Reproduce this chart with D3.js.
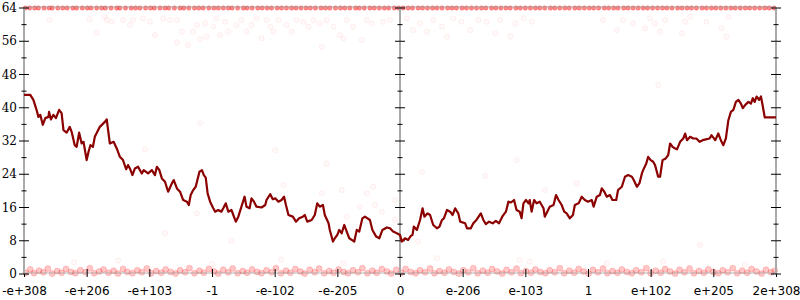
<!DOCTYPE html>
<html>
<head>
<meta charset="utf-8">
<script src="https://cdn.jsdelivr.net/npm/d3@7/dist/d3.min.js"></script>
<style>
  body { margin: 0; background: #fff; }
  svg { display: block; }
</style>
</head>
<body>
<svg id="chart" width="800" height="300"></svg>
<script>
// x positions are in "ordered float" units: -6 .. 6, one unit per labelled tick
var xLabels = ["-e+308", "-e+206", "-e+103", "-1", "-e-102", "-e-205", "0",
               "e-206", "e-103", "1", "e+102", "e+205", "2e+308"]
var yTicks = [0, 4, 8, 12, 16, 20, 24, 28, 32, 36, 40, 44, 48, 52, 56, 60, 64]

// the running line
var walkX = [-6, -5.9, -5.85, -5.8, -5.77, -5.74, -5.7, -5.66, -5.61, -5.6, -5.57, -5.53, -5.49, -5.44, -5.4,
  -5.37, -5.32, -5.27, -5.24, -5.19, -5.16, -5.12, -5.08, -5.05, -5, -4.97, -4.94, -4.9, -4.87, -4.79,
  -4.71, -4.68, -4.63, -4.57, -4.52, -4.47, -4.42, -4.37, -4.34, -4.31, -4.27, -4.23, -4.18, -4.12, -4.09,
  -4.02, -3.96, -3.91, -3.88, -3.84, -3.8, -3.75, -3.7, -3.64, -3.61, -3.56, -3.51, -3.46, -3.4, -3.37,
  -3.34, -3.3, -3.26, -3.2, -3.16, -3.13, -3.1, -3.07, -3.03, -2.98, -2.95, -2.9, -2.85, -2.82, -2.78,
  -2.74, -2.69, -2.62, -2.58, -2.53, -2.48, -2.45, -2.4, -2.37, -2.33, -2.29, -2.21, -2.15, -2.13, -2.07,
  -2.03, -1.99, -1.94, -1.89, -1.85, -1.82, -1.78, -1.71, -1.66, -1.61, -1.55, -1.52, -1.48, -1.41, -1.36,
  -1.32, -1.28, -1.23, -1.2, -1.14, -1.12, -1.07, -1.04, -1, -0.97, -0.93, -0.89, -0.85, -0.81, -0.77,
  -0.73, -0.69, -0.65, -0.6, -0.56, -0.48, -0.44, -0.38, -0.33, -0.28, -0.21, -0.16, -0.11, -0.05, 0,
  0.03, 0.08, 0.13, 0.17, 0.2, 0.22, 0.27, 0.32, 0.36, 0.39, 0.44, 0.48, 0.53, 0.59, 0.63,
  0.67, 0.7, 0.75, 0.8, 0.84, 0.88, 0.93, 0.96, 1.04, 1.07, 1.13, 1.17, 1.22, 1.29, 1.33,
  1.37, 1.42, 1.48, 1.53, 1.58, 1.64, 1.69, 1.73, 1.77, 1.82, 1.86, 1.91, 1.94, 1.97, 2.01,
  2.05, 2.07, 2.1, 2.14, 2.18, 2.23, 2.29, 2.31, 2.35, 2.39, 2.45, 2.49, 2.53, 2.58, 2.62,
  2.66, 2.71, 2.76, 2.79, 2.85, 2.9, 2.95, 3, 3.06, 3.09, 3.14, 3.19, 3.22, 3.26, 3.3,
  3.35, 3.39, 3.45, 3.48, 3.54, 3.59, 3.64, 3.7, 3.73, 3.78, 3.82, 3.86, 3.88, 3.93, 3.96,
  4, 4.04, 4.07, 4.12, 4.15, 4.19, 4.24, 4.28, 4.31, 4.35, 4.39, 4.42, 4.47, 4.52, 4.55,
  4.58, 4.63, 4.68, 4.73, 4.78, 4.83, 4.88, 4.94, 4.97, 5.03, 5.08, 5.12, 5.16, 5.2, 5.24,
  5.28, 5.32, 5.36, 5.4, 5.44, 5.47, 5.51, 5.56, 5.6, 5.63, 5.66, 5.69, 5.73, 5.76, 5.79,
  5.82, 6]
var walkY = [43.1, 43.1, 41.9, 39.5, 37.8, 38.3, 35.9, 37.5, 37.8, 39, 37.2, 38.3, 37.5, 39.5, 38.7,
  34.6, 34, 35.4, 34.2, 31, 30.6, 34, 31.4, 31.8, 27.4, 29.4, 31, 30.6, 33, 35.4,
  36.6, 37.2, 31.4, 31.8, 30.2, 28.2, 27.4, 25.2, 26.2, 25.4, 23.8, 25.4, 25.8, 24.2, 25,
  24.2, 25, 23.8, 25.8, 25, 23, 22.2, 19.8, 21.8, 22.6, 20.6, 19.8, 17.8, 17.4, 16.6,
  19, 20.2, 21, 24.6, 25, 23.8, 23.2, 19.4, 17.4, 15.8, 15, 15.4, 15, 15.8, 17,
  15, 15.4, 12.6, 13.8, 16.2, 18.6, 16.2, 15.8, 18.2, 17.4, 16.2, 16, 16.6, 17.8, 19.2,
  18, 18.2, 17.4, 17.8, 18.6, 16.6, 14.2, 13.8, 12.6, 13.4, 13.8, 14.2, 12.6, 13, 14.2,
  17, 16.2, 16.6, 14.2, 12.2, 10.6, 7.8, 8.6, 9.4, 10.6, 9.8, 11.8, 10.2, 8.6, 8.2,
  7.8, 10.6, 10.2, 13.4, 13.8, 13, 10.6, 9, 8.6, 10.6, 11.2, 11, 10.2, 9.8, 9.4,
  7.8, 8.6, 8.2, 9.1, 9.4, 11.4, 10.6, 13, 15.8, 13.8, 14.6, 14.2, 11.8, 11, 11.4,
  13, 13.4, 15.4, 15, 14.2, 15.8, 14.6, 12.6, 12.2, 11, 11, 12.2, 13, 14.6, 13,
  12, 12.6, 12.2, 12.8, 12.2, 14, 15, 17.4, 17.2, 17.8, 15.4, 15, 13.4, 17, 17.8,
  17, 17.8, 15, 17.8, 17, 17.4, 15.8, 13.8, 15, 16.2, 16.6, 19, 17.8, 16.6, 15,
  14.6, 13.4, 14.2, 16.6, 17, 18.6, 17.8, 17.4, 17.8, 16.2, 18.6, 19, 20.6, 19.8, 18.6,
  19, 17.8, 17.8, 20.2, 21, 23.4, 23.8, 23.4, 22.6, 21, 21.8, 24.2, 25, 26.6, 28.2,
  27.4, 27, 26.2, 23.4, 23.4, 27.4, 27.8, 28.6, 31.4, 30.6, 30.2, 30, 31.8, 32.6, 33.8,
  32.2, 33, 32.6, 32.6, 31.8, 32.2, 32.4, 32.6, 33.4, 32.2, 33.8, 32.2, 31, 32.6, 37,
  39, 39.5, 41.4, 41.9, 41, 39.9, 40.7, 41.4, 41, 42.3, 41.4, 42.7, 41.9, 42.7, 40.3,
  37.7, 37.7]

// faint samples piled up on the 64 ceiling
var ceilingX = [-5.98, -5.91, -5.83, -5.77, -5.68, -5.6, -5.55, -5.46, -5.38, -5.31, -5.22, -5.16, -5.07,
  -4.99, -4.93, -4.84, -4.76, -4.7, -4.61, -4.52, -4.47, -4.38, -4.29, -4.22, -4.15, -4.06, -3.98, -3.92,
  -3.83, -3.75, -3.69, -3.6, -3.51, -3.45, -3.37, -3.28, -3.21, -3.14, -3.05, -2.97, -2.9, -2.82, -2.74,
  -2.68, -2.59, -2.5, -2.44, -2.36, -2.27, -2.2, -2.12, -2.05, -1.96, -1.89, -1.81, -1.73, -1.66, -1.58,
  -1.5, -1.43, -1.35, -1.26, -1.19, -1.12, -1.03, -0.95, -0.88, -0.8, -0.71, -0.65, -0.57, -0.48, -0.41,
  -0.33, -0.25, -0.18, -0.09, -0.02, 0.05, 0.13, 0.2, 0.29, 0.36, 0.44, 0.52, 0.59, 0.67, 0.76, 0.83,
  0.9, 0.99, 1.06, 1.14, 1.22, 1.3, 1.37, 1.46, 1.53, 1.61, 1.69, 1.76, 1.85, 1.92, 2, 2.08, 2.16,
  2.23, 2.31, 2.4, 2.47, 2.55, 2.63, 2.7, 2.79, 2.86, 2.94, 3.02, 3.09, 3.17, 3.26, 3.33, 3.41, 3.48,
  3.57, 3.64, 3.72, 3.8, 3.88, 3.95, 4.03, 4.11, 4.19, 4.26, 4.34, 4.43, 4.5, 4.58, 4.65, 4.73, 4.82,
  4.89, 4.97, 5.04, 5.12, 5.2, 5.28, 5.35, 5.43, 5.51, 5.58, 5.66, 5.74, 5.82, 5.89, 5.97]

// faint samples near the floor
var floorPts = [[-5.97, 0.3], [-5.9, 1.1], [-5.84, 0.2], [-5.76, 0.8], [-5.69, 0.4], [-5.62, 1.3], [-5.55, 0.1],
  [-5.47, 0.7], [-5.4, 0.3], [-5.33, 1.2], [-5.25, 0.5], [-5.18, 0.2], [-5.1, 0.9], [-5.02, 0.4], [-4.95, 1.4],
  [-4.88, 0.2], [-4.8, 0.6], [-4.73, 1.1], [-4.65, 0.3], [-4.57, 0.8], [-4.5, 0.1], [-4.42, 1.2], [-4.35, 0.5],
  [-4.27, 0.2], [-4.19, 0.9], [-4.12, 0.4], [-4.04, 1.3], [-3.97, 0.2], [-3.89, 0.7], [-3.81, 0.3], [-3.74, 1.1],
  [-3.66, 0.5], [-3.58, 0.1], [-3.51, 0.9], [-3.43, 0.4], [-3.36, 1.4], [-3.28, 0.2], [-3.2, 0.8], [-3.13, 0.3],
  [-3.05, 1.2], [-2.97, 0.6], [-2.9, 0.1], [-2.82, 1], [-2.74, 0.4], [-2.67, 1.3], [-2.59, 0.2], [-2.51, 0.7],
  [-2.44, 0.3], [-2.36, 1.1], [-2.28, 0.5], [-2.21, 0.2], [-2.13, 0.9], [-2.05, 0.4], [-1.98, 1.4], [-1.9, 0.2],
  [-1.82, 0.8], [-1.75, 0.3], [-1.67, 1.2], [-1.59, 0.6], [-1.52, 0.1], [-1.44, 1], [-1.36, 0.4], [-1.29, 1.3],
  [-1.21, 0.2], [-1.13, 0.7], [-1.06, 0.3], [-0.98, 1.1], [-0.9, 0.5], [-0.83, 0.2], [-0.75, 0.9], [-0.67, 0.4],
  [-0.6, 1.4], [-0.52, 0.2], [-0.44, 0.8], [-0.37, 0.3], [-0.29, 1.2], [-0.21, 0.6], [-0.14, 0.1], [-0.06, 1],
  [0.02, 0.3], [0.09, 1.2], [0.17, 0.5], [0.25, 0.2], [0.32, 0.9], [0.4, 0.4], [0.48, 1.3], [0.55, 0.2],
  [0.63, 0.7], [0.71, 0.3], [0.78, 1.1], [0.86, 0.5], [0.94, 0.1], [1.01, 0.9], [1.09, 0.4], [1.17, 1.4],
  [1.24, 0.2], [1.32, 0.8], [1.4, 0.3], [1.47, 1.2], [1.55, 0.6], [1.63, 0.1], [1.7, 1], [1.78, 0.4],
  [1.86, 1.3], [1.93, 0.2], [2.01, 0.7], [2.09, 0.3], [2.16, 1.1], [2.24, 0.5], [2.32, 0.2], [2.39, 0.9],
  [2.47, 0.4], [2.55, 1.4], [2.62, 0.2], [2.7, 0.8], [2.78, 0.3], [2.85, 1.2], [2.93, 0.6], [3.01, 0.1],
  [3.08, 1], [3.16, 0.4], [3.24, 1.3], [3.31, 0.2], [3.39, 0.7], [3.47, 0.3], [3.54, 1.1], [3.62, 0.5],
  [3.7, 0.2], [3.77, 0.9], [3.85, 0.4], [3.93, 1.4], [4, 0.2], [4.08, 0.8], [4.16, 0.3], [4.23, 1.2],
  [4.31, 0.6], [4.39, 0.1], [4.46, 1], [4.54, 0.4], [4.62, 1.3], [4.69, 0.2], [4.77, 0.7], [4.85, 0.3],
  [4.92, 1.1], [5, 0.5], [5.08, 0.2], [5.15, 0.9], [5.23, 0.4], [5.31, 1.4], [5.38, 0.2], [5.46, 0.8],
  [5.54, 0.3], [5.61, 1.2], [5.69, 0.6], [5.77, 0.1], [5.84, 1], [5.92, 0.4], [5.98, 0.8]]

// loose samples
var scatterPts = [[-5.59, 61.1], [-4.95, 61.3], [-4.84, 58.1], [-4.71, 61.9], [-4.68, 61.1], [-4.6, 60.7],
  [-4.42, 61.1], [-4.31, 59.9], [-4.26, 61.1], [-4.1, 61.5], [-3.99, 60.7], [-3.91, 57.5], [-3.78, 61.5],
  [-3.67, 61.1], [-3.56, 61.1], [-3.56, 55.7], [-3.48, 58.3], [-3.38, 55.1], [-3.3, 58.3], [-3.24, 59.9],
  [-3.19, 56.5], [-3.11, 60.3], [-3.09, 57.1], [-2.98, 59.5], [-2.93, 61.5], [-2.87, 57.5], [-2.79, 60.7],
  [-2.74, 58.3], [-2.61, 59.9], [-2.53, 61.1], [-2.45, 58.3], [-2.37, 59.9], [-2.29, 61.5], [-2.21, 56.7],
  [-2.13, 61.1], [-2.07, 59.5], [-2.02, 58.3], [-1.94, 61.1], [-1.81, 59.9], [-1.73, 58.3], [-1.65, 61.1],
  [-1.54, 60.7], [-1.46, 59.5], [-1.38, 61.1], [-1.28, 60.3], [-1.25, 54.7], [-1.17, 61.1], [-1.06, 59.5],
  [-0.96, 57.5], [-0.9, 56.7], [-0.85, 61.1], [-0.75, 59.5], [-0.61, 56.3], [-0.53, 61.1], [-0.45, 60.3],
  [-0.27, 60.7], [-0.16, 61.1], [0.11, 61.5], [0.21, 58.7], [0.32, 60.3], [0.43, 58.3], [0.53, 61.1],
  [0.67, 59.5], [0.75, 57.1], [0.85, 61.5], [0.98, 60.7], [1.12, 58.7], [1.25, 61.1], [1.38, 60.7],
  [1.52, 57.9], [1.6, 61.1], [1.76, 57.1], [1.84, 60.3], [1.97, 61.5], [2.1, 60.7], [3.24, 61.1],
  [3.46, 58.7], [3.56, 61.1], [3.72, 60.3], [3.91, 59.1], [3.99, 61.5], [4.07, 60.3], [4.15, 58.3],
  [4.23, 61.1], [4.5, 57.9], [4.55, 60.7], [4.63, 61.9], [4.89, 60.7], [5.13, 59.1], [5.21, 57.1],
  [5.24, 61.9], [-3.19, 36.3], [-4.07, 30], [-3.24, 14.6], [-1.99, 29.8], [-1.17, 26.6], [-1.86, 21.4],
  [-1.25, 19.4], [-0.93, 20.2], [-0.43, 21], [-0.53, 19.4], [-0.64, 16.2], [-0.4, 16.6], [-0.29, 15],
  [-0.08, 17.8], [-0.08, 13], [-2.69, 8], [-0.85, 13.8], [1.86, 27.4], [0.35, 24.6], [1.36, 23.6],
  [2.82, 21.8], [2.31, 20.2], [0.29, 7.8], [4.12, 45.5], [4.79, 7], [-3.75, 9.8], [-0.9, 2.6],
  [0.59, 3.8], [1.91, 3.4], [2.07, 3], [-5.2, 2.8], [-4.5, 3.2], [-3, 2.4], [-1.9, 3.5], [3.3, 2.6],
  [4.2, 3], [5.5, 2.2]]

var svg = d3.select("#chart")

var x = d3.scaleLinear().domain([-6, 6]).range([24, 776])
var y = d3.scaleLinear().domain([0, 64]).range([274, 8])

function drawDots(data, r, fillOp, strokeOp) {
  svg.append("g")
    .selectAll("circle")
    .data(data)
    .enter()
    .append("circle")
    .attr("cx", function (d) { return x(d[0]) })
    .attr("cy", function (d) { return y(d[1]) })
    .attr("r", r)
    .attr("fill", "red")
    .attr("fill-opacity", fillOp)
    .attr("stroke", "red")
    .attr("stroke-opacity", strokeOp)
}

drawDots(scatterPts, 2.6, 0.025, 0.06)
drawDots(floorPts, 3, 0.22, 0.16)
drawDots(ceilingX.map(function (v) { return [v, 64] }), 2.2, 0.45, 0.25)

// frame lines top and bottom
svg.append("g")
  .selectAll("line")
  .data([0, 64])
  .enter()
  .append("line")
  .attr("x1", x(-6))
  .attr("x2", x(6))
  .attr("y1", function (d) { return y(d) - 1 })
  .attr("y2", function (d) { return y(d) - 1 })
  .attr("stroke", "#999")
  .attr("stroke-opacity", 0.7)
  .attr("stroke-width", 1)

// x axis
var xAxis = svg.append("g")
  .attr("transform", "translate(0," + y(0) + ")")
  .call(d3.axisBottom(x)
    .tickValues(d3.range(-6, 7))
    .tickFormat(function (d) { return xLabels[d + 6] }))

xAxis.select(".domain").remove()
xAxis.selectAll(".tick line")
  .attr("y1", -5)
  .attr("y2", 3)
  .attr("stroke", "#000")
xAxis.selectAll(".tick text")
  .attr("y", 12)
  .style("font-family", "'DejaVu Sans', sans-serif")
  .style("font-size", "12px")
  .attr("fill", "#000")

// three vertical axes
;[-6, 0, 6].forEach(function (pos) {
  var g = svg.append("g").attr("transform", "translate(" + x(pos) + ",0)")

  g.append("line")
    .attr("y1", y(64))
    .attr("y2", y(0))
    .attr("stroke", "#aaa")
    .attr("stroke-width", 2)

  g.selectAll(".tk")
    .data(yTicks)
    .enter()
    .append("line")
    .attr("class", "tk")
    .attr("x1", function (d) { return d % 8 === 0 ? -5 : -2.5 })
    .attr("x2", function (d) { return d % 8 === 0 ? 5 : 2.5 })
    .attr("y1", function (d) { return y(d) })
    .attr("y2", function (d) { return y(d) })
    .attr("stroke", "#000")
    .attr("stroke-width", 1)

  if (pos === -6) {
    g.selectAll(".lbl")
      .data(yTicks.filter(function (d) { return d % 8 === 0 }))
      .enter()
      .append("text")
      .attr("x", -7)
      .attr("y", function (d) { return y(d) })
      .attr("dy", "0.35em")
      .attr("text-anchor", "end")
      .style("font-family", "'DejaVu Serif', serif")
      .style("font-size", "12px")
      .text(function (d) { return d })
  }
})

// the line
var walk = walkX.map(function (v, i) { return [v, walkY[i]] })

svg.append("path")
  .datum(walk)
  .attr("fill", "none")
  .attr("stroke", "#8b0000")
  .attr("stroke-width", 2.2)
  .attr("stroke-linejoin", "round")
  .attr("d", d3.line()
    .x(function (d) { return x(d[0]) })
    .y(function (d) { return y(d[1]) }))
</script>
</body>
</html>
